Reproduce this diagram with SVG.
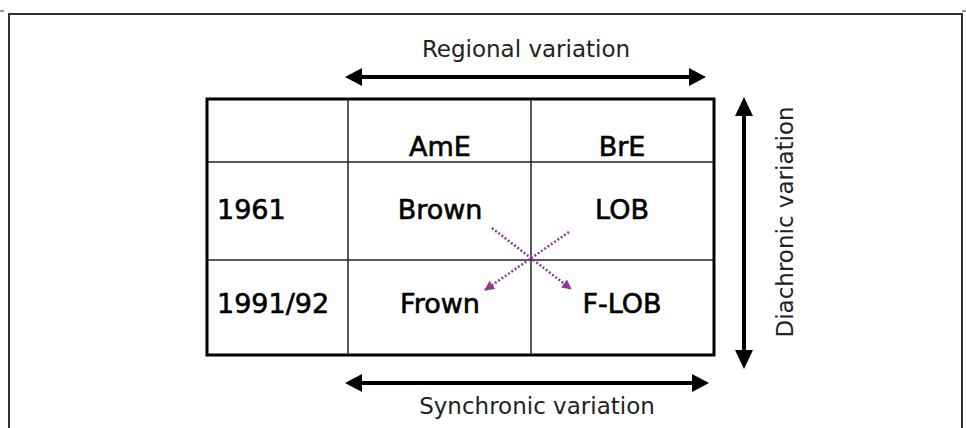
<svg xmlns="http://www.w3.org/2000/svg" width="966" height="428" viewBox="0 0 966 428">
<style>
.frame{stroke:#333;stroke-width:2;fill:none}
.grid{stroke:#222;stroke-width:1.5;fill:none}
.tbl{stroke:#000;stroke-width:3;fill:none}
.cell{font-family:"DejaVu Sans",Verdana,sans-serif;font-size:27px;fill:#000;stroke:#000;stroke-width:0.6}
.lbl{font-family:"DejaVu Sans",Verdana,sans-serif;font-size:23px;fill:#222;text-anchor:middle}
.shaft{stroke:#000;stroke-width:4;fill:none}
.head{fill:#000}
.dot{stroke:#8e3b8e;stroke-width:2.5;stroke-dasharray:2 2;fill:none;marker-end:url(#pa)}
</style>
<defs>
<marker id="pa" viewBox="0 0 10 10" refX="9" refY="5" markerWidth="4" markerHeight="4" orient="auto" markerUnits="strokeWidth">
<path d="M0,0 L10,5 L0,10 z" fill="#8e3b8e"/>
</marker>
</defs>
<rect width="966" height="428" fill="#fff"/>
<g id="frame">
<path class="frame" d="M9,428 V14 H962 V428"/>
<line x1="0" y1="11" x2="4" y2="11" stroke="#333" stroke-width="1"/>
<line x1="962" y1="11" x2="966" y2="11" stroke="#333" stroke-width="1"/>
</g>
<g id="table">
<rect class="tbl" x="207" y="99" width="507" height="256"/>
<line class="grid" x1="348" y1="99" x2="348" y2="355"/>
<line class="grid" x1="531" y1="99" x2="531" y2="355"/>
<line class="grid" x1="207" y1="162" x2="714" y2="162"/>
<line class="grid" x1="207" y1="260" x2="714" y2="260"/>
</g>
<g id="n-ame"><text class="cell" x="440" y="156" text-anchor="middle">AmE</text></g>
<g id="n-bre"><text class="cell" x="622" y="156" text-anchor="middle">BrE</text></g>
<g id="n-1961"><text class="cell" x="217" y="219">1961</text></g>
<g id="n-brown"><text class="cell" x="440" y="219" text-anchor="middle">Brown</text></g>
<g id="n-lob"><text class="cell" x="622" y="219" text-anchor="middle">LOB</text></g>
<g id="n-1991"><text class="cell" x="217" y="313">1991/92</text></g>
<g id="n-frown"><text class="cell" x="440" y="313" text-anchor="middle">Frown</text></g>
<g id="n-flob"><text class="cell" x="622" y="313" text-anchor="middle">F-LOB</text></g>
<g id="regional">
<text class="lbl" x="526" y="57">Regional variation</text>
<line class="shaft" x1="360" y1="77" x2="691" y2="77"/>
<path class="head" d="M345,77 L362,68 L362,86 z"/>
<path class="head" d="M706,77 L689,68 L689,86 z"/>
</g>
<g id="synchronic">
<line class="shaft" x1="360" y1="383" x2="694" y2="383"/>
<path class="head" d="M345,383 L362,374 L362,392 z"/>
<path class="head" d="M709,383 L692,374 L692,392 z"/>
<text class="lbl" x="537" y="414">Synchronic variation</text>
</g>
<g id="diachronic">
<line class="shaft" x1="744" y1="112" x2="744" y2="354"/>
<path class="head" d="M744,97 L735,116 L753,116 z"/>
<path class="head" d="M744,369 L735,350 L753,350 z"/>
<text class="lbl" transform="translate(793,222) rotate(-90)">Diachronic variation</text>
</g>
<g id="connectors">
<path class="dot" d="M492,228 L571,289"/>
<path class="dot" d="M569,232 L485,290"/>
</g>
</svg>
